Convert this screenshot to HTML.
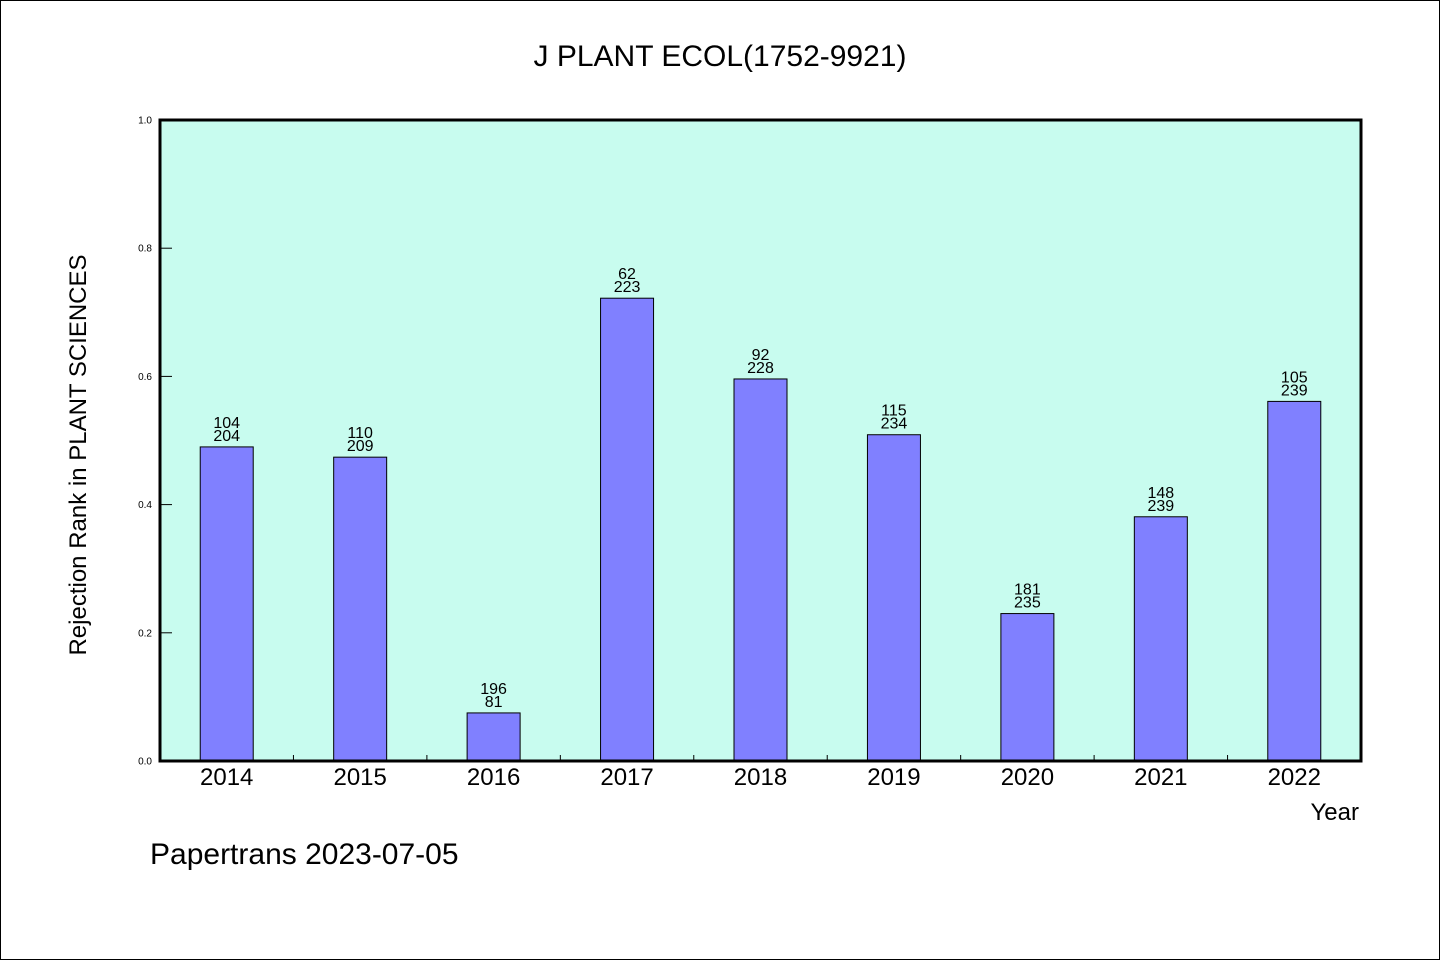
<!DOCTYPE html>
<html><head><meta charset="utf-8"><style>
html,body{margin:0;padding:0;background:#fff}
svg{display:block}
text{font-family:"WenQuanYi Zen Hei","Liberation Sans",sans-serif;fill:#000}
</style></head><body>
<svg id="chart" width="1440" height="960" xmlns="http://www.w3.org/2000/svg">
<rect x="0.5" y="0.5" width="1439" height="959" fill="#fff" stroke="#000"/>
<text x="720" y="66" font-size="30" text-anchor="middle">J PLANT ECOL(1752-9921)</text>
<rect x="160" y="120" width="1201" height="641" fill="#c8fcef"/>
<g id="bars"></g>
<g id="ticks"></g>
<rect x="160" y="120" width="1201" height="641" fill="none" stroke="#000" stroke-width="3"/>
<text transform="translate(86,455) rotate(-90)" font-size="24" text-anchor="middle">Rejection Rank in PLANT SCIENCES</text>
<text x="1359" y="820" font-size="24" text-anchor="end">Year</text>
<text x="150" y="864" font-size="30">Papertrans 2023-07-05</text>
</svg>
<script>
const categories = ["2014","2015","2016","2017","2018","2019","2020","2021","2022"];
const values = [0.49, 0.474, 0.075, 0.722, 0.596, 0.509, 0.23, 0.381, 0.561];
const topLabels = ["104","110","196","62","92","115","181","148","105"];
const bottomLabels = ["204","209","81","223","228","234","235","239","239"];
const yTicks = [0, 0.2, 0.4, 0.6, 0.8, 1.0];
const yTickLabels = ["0.0","0.2","0.4","0.6","0.8","1.0"];

const NS = "http://www.w3.org/2000/svg";
const X0 = 160, X1 = 1361, Y0 = 761, Y1 = 120;
const slot = (X1 - X0) / categories.length;
const xCenter = i => X0 + slot * (i + 0.5);
const yScale = v => Y0 - v * (Y0 - Y1);
function mk(tag, attrs, parent, txt){
  const e = document.createElementNS(NS, tag);
  for (const k in attrs) e.setAttribute(k, attrs[k]);
  if (txt !== undefined) e.textContent = txt;
  parent.appendChild(e); return e;
}
const bars = document.getElementById('bars');
const ticks = document.getElementById('ticks');
const bw = 53;
categories.forEach((c, i) => {
  const cx = xCenter(i), y = yScale(values[i]);
  const r = mk('rect', {x: cx - bw/2, y: y, width: bw, height: Y0 - y, fill: '#8080ff', stroke: '#000', 'stroke-width': 1}, bars);
  
  
  const t1 = mk('text', {x: cx, y: y - 19, 'font-size': 16, 'text-anchor': 'middle'}, bars, topLabels[i]);
  
  
  const t2 = mk('text', {x: cx, y: y - 6, 'font-size': 16, 'text-anchor': 'middle'}, bars, bottomLabels[i]);
  
  
  const xl = mk('text', {x: cx, y: 785, 'font-size': 24, 'text-anchor': 'middle'}, ticks, c);
  
  
  if (i > 0) {
    const bx = X0 + slot * i;
    const tk = mk('line', {x1: bx, x2: bx, y1: Y0, y2: Y0 - 6, stroke: '#000', 'stroke-width': 1}, ticks);
    
    
  }
});
yTicks.forEach((v, i) => {
  const y = yScale(v);
  const tk = mk('line', {x1: X0, x2: X0 + 12, y1: y, y2: y, stroke: '#000', 'stroke-width': 1}, ticks);
  
  
  const tl = mk('text', {x: 152, y: y + 3.5, 'font-size': 10, 'text-anchor': 'end'}, ticks, yTickLabels[i]);
  
  
});
</script>
</body></html>
